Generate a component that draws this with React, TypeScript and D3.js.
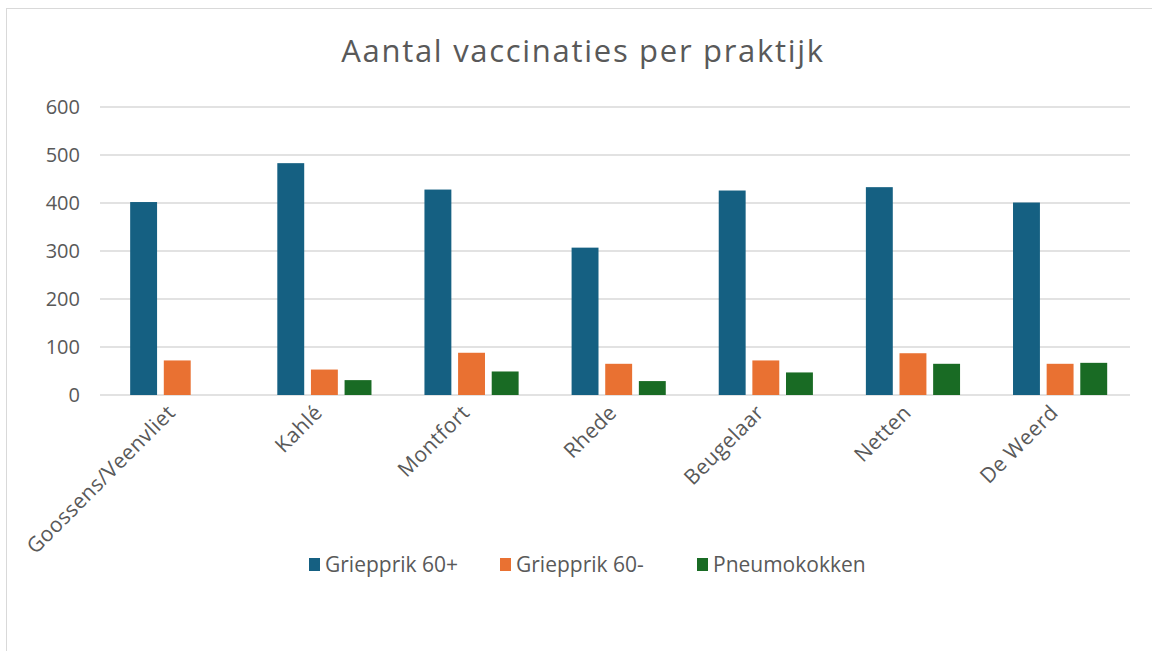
import * as d3 from "d3";

const practices = ["Goossens/Veenvliet", "Kahlé", "Montfort", "Rhede", "Beugelaar", "Netten", "De Weerd"];
const series = ["Griepprik 60+", "Griepprik 60-", "Pneumokokken"];
const griep60plus = [402, 483, 428, 307, 426, 433, 401];
const griep60min = [72, 53, 88, 65, 72, 87, 65];
const pneumo = [0, 31, 49, 29, 47, 65, 67];
const yTicks = [0, 100, 200, 300, 400, 500, 600];
const colors = ["#156082", "#E97132", "#196B24"];

const W = 1152;
const H = 651;
const left = 100;
const right = 1130;
const top = 107;
const bottom = 395;
const font = "'Open Sans', 'Liberation Sans', Arial, sans-serif";
const textColor = "#595959";

export default function App() {
  const values = [griep60plus, griep60min, pneumo];

  const x = d3.scaleBand<string>().domain(practices).range([left, right]).padding(0);
  const bw = x.bandwidth();
  const x1 = d3.scaleBand<string>()
    .domain(series)
    .range([bw * 0.205, bw * 0.845])
    .paddingInner(0.2);
  const y = d3.scaleLinear().domain([0, 600]).range([bottom, top]);

  const legendX = [309, 500, 697];

  return (
    <svg width={W} height={H} style={{ position: "absolute", left: 0, top: 0 }}>
      <rect x={0} y={0} width={W} height={H} fill="#fff" />
      <rect x={6.5} y={8.5} width={W + 10} height={H + 10} fill="none" stroke="#d9d9d9" strokeWidth={1} />
      <text x={583} y={62} textAnchor="middle" fontFamily={font} fontSize={31} letterSpacing={1.7} fill={textColor}>
        Aantal vaccinaties per praktijk
      </text>
      {yTicks.map(t => (
        <g key={t}>
          <line x1={left} x2={right} y1={y(t)} y2={y(t)} stroke="#d9d9d9" strokeWidth={1.5} />
          <text x={80} y={y(t) + 7} textAnchor="end" fontFamily={font} fontSize={20} fill={textColor}>
            {t}
          </text>
        </g>
      ))}
      {practices.map((p, i) => (
        <g key={p} transform={`translate(${x(p)},0)`}>
          {series.map((s, j) =>
            values[j][i] > 0 ? (
              <rect
                key={s}
                x={x1(s) as number}
                y={y(values[j][i])}
                width={x1.bandwidth()}
                height={bottom - y(values[j][i])}
                fill={colors[j]}
              />
            ) : null
          )}
        </g>
      ))}
      {practices.map(p => {
        const cx = (x(p) as number) + bw / 2 + 3;
        return (
          <text
            key={p}
            transform={`translate(${cx},${414}) rotate(-45)`}
            textAnchor="end"
            fontFamily={font}
            fontSize={21}
            letterSpacing={0.4}
            fill={textColor}
          >
            {p}
          </text>
        );
      })}
      {series.map((s, j) => (
        <g key={s} transform={`translate(${legendX[j]},558)`}>
          <rect x={0} y={0} width={11} height={13} fill={colors[j]} />
          <text x={16} y={14} fontFamily={font} fontSize={21} fill={textColor}>
            {s}
          </text>
        </g>
      ))}
    </svg>
  );
}
